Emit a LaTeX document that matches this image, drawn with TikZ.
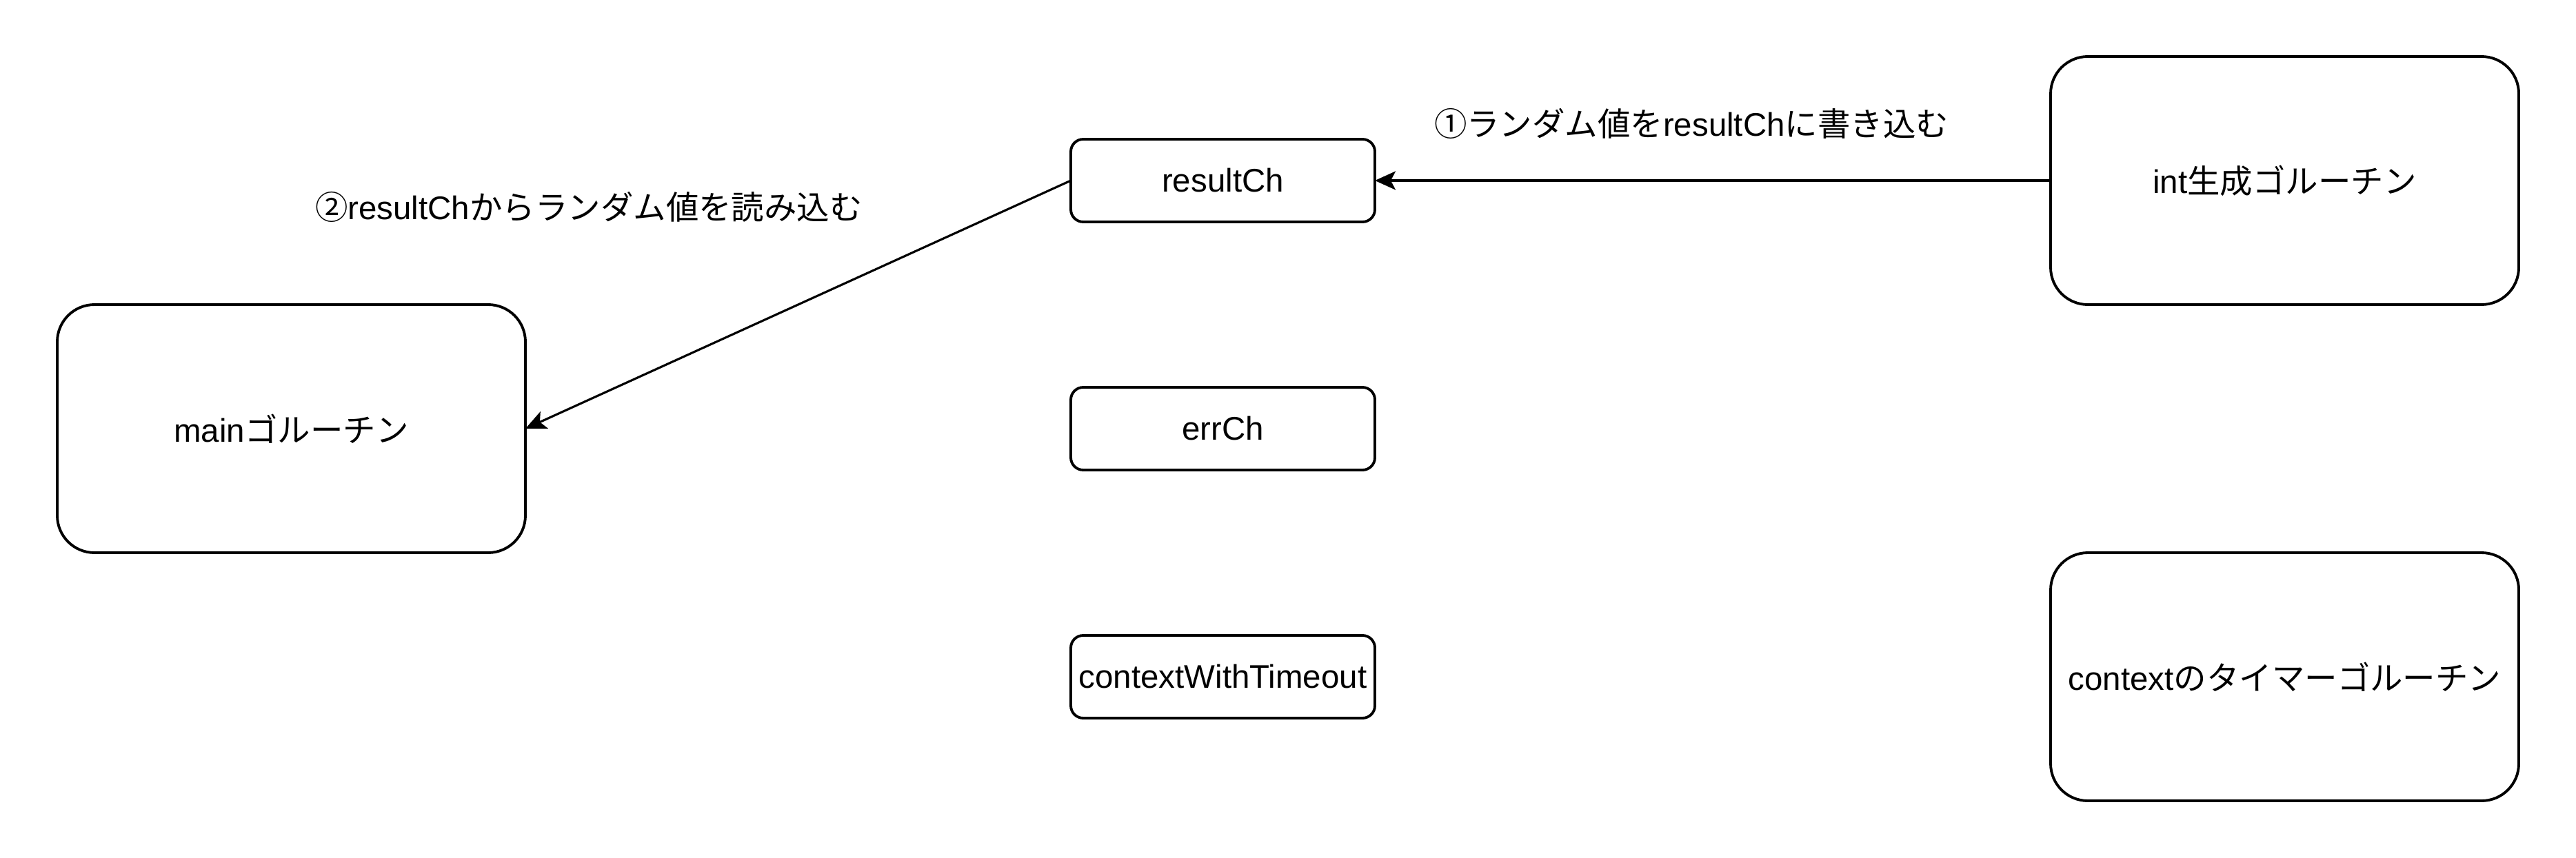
\documentclass[tikz,border=0pt]{standalone}
\usepackage{fontspec}
\setmainfont{Liberation Sans}
\newfontfamily\jp{Noto Sans CJK JP}
\usetikzlibrary{arrows.meta,positioning}

\begin{document}
\begin{tikzpicture}[
      node distance=2.4cm,
      font=\fontsize{13.5}{16}\selectfont,
      chan/.style={draw,line width=1.1pt,rounded corners=0.18cm,minimum width=4.41cm,minimum height=1.2cm,inner sep=0pt,outer sep=0pt},
      gor/.style={draw,line width=1.1pt,rounded corners=0.54cm,minimum width=6.79cm,minimum height=3.6cm,inner sep=0pt,outer sep=0pt},
      lbl/.style={inner sep=0pt},
      arrow/.style={-{Stealth[length=0.3cm,width=0.27cm,inset=0.07cm]},line width=0.9pt}
    ]
      \useasboundingbox (0,0) rectangle (37.36,-12.44);
      \node[chan] (result) at (17.735,-2.62) {resultCh};
      \node[chan,below=of result] (err) {errCh};
      \node[chan,below=of err] (timeout) {contextWithTimeout};
      \node[gor,left=7.91cm of err] (main) {main{\jp ゴルーチン}};
      \node[gor,right=9.8cm of result] (gen) {int{\jp 生成ゴルーチン}};
      \node[gor,below=3.6cm of gen] (timer) {context{\jp のタイマーゴルーチン}};
      \node[lbl] (writelbl) at (24.53,-1.79) {{\jp ①ランダム値を}resultCh{\jp に書き込む}};
      \node[lbl] (readlbl) at (8.54,-3.00) {{\jp ②}resultCh{\jp からランダム値を読み込む}};
      \draw[arrow] (gen.west) -- (result.east);
      \draw[arrow] (result.west) -- (main.east);
    \end{tikzpicture}
\end{document}
